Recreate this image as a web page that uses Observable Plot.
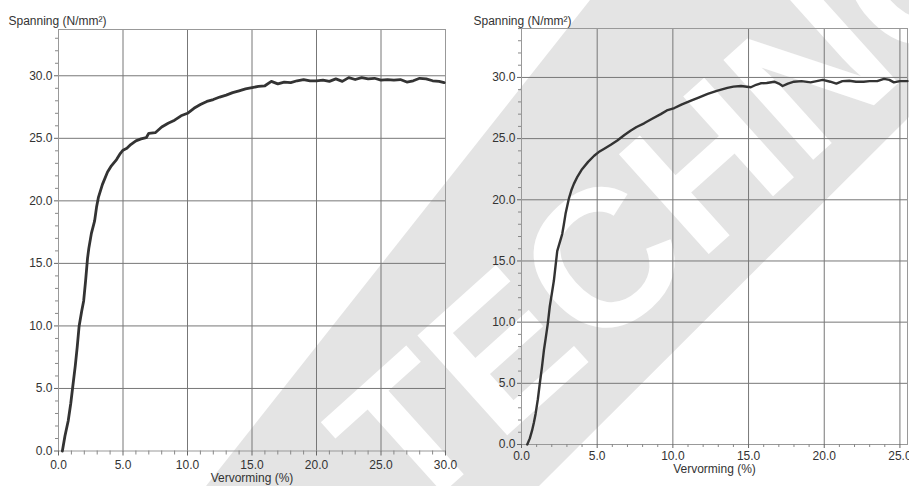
<!DOCTYPE html>
<html><head><meta charset="utf-8">
<script src="https://cdn.jsdelivr.net/npm/d3@7"></script>
<script src="https://cdn.jsdelivr.net/npm/@observablehq/plot@0.6"></script>
<style>
html,body{margin:0;padding:0;background:#fff;}
#wrap{position:relative;width:909px;height:486px;overflow:hidden;font-family:"Liberation Sans",Arial,sans-serif;}
#wrap svg{position:absolute;}
</style></head><body><div id="wrap"></div>
<script>
const yLabel = "Spanning (N/mm²)";
const xLabel = "Vervorming (%)";
const watermark = "TECHNO";

const leftStrain = [0.3,0.5,0.75,0.95,1.1,1.3,1.45,1.6,1.8,1.95,2.1,2.25,2.35,2.55,2.8,2.95,3.1,3.4,3.8,4.1,4.5,4.8,5.0,5.3,5.6,6.0,6.4,6.8,7.0,7.5,8.0,8.5,9.0,9.5,10.0,10.5,11.0,11.5,12.0,12.5,13.0,13.5,14.0,14.5,15.0,15.5,16.0,16.5,17.0,17.5,18.0,18.5,19.0,19.5,20.0,20.5,21.0,21.5,22.0,22.5,23.0,23.5,24.0,24.5,25.0,25.5,26.0,26.5,27.0,27.5,28.0,28.5,29.0,29.5,29.9];
const leftStress = [0,1.2,2.4,3.8,5.1,6.8,8.3,10.0,11.2,12.0,13.6,15.4,16.2,17.4,18.4,19.5,20.3,21.3,22.3,22.8,23.3,23.8,24.05,24.2,24.5,24.8,24.95,25.05,25.4,25.45,25.9,26.2,26.45,26.8,27.0,27.4,27.7,27.95,28.1,28.3,28.45,28.65,28.8,28.95,29.05,29.15,29.2,29.55,29.35,29.5,29.45,29.6,29.7,29.6,29.6,29.65,29.55,29.75,29.55,29.85,29.7,29.85,29.75,29.8,29.65,29.7,29.65,29.7,29.5,29.6,29.8,29.75,29.6,29.55,29.45];

const rightStrain = [0.38,0.55,0.7,0.82,0.93,1.08,1.21,1.35,1.48,1.6,1.74,1.87,2.0,2.14,2.25,2.36,2.5,2.69,2.8,2.91,3.13,3.3,3.46,3.7,4.0,4.4,4.8,5.1,5.44,5.9,6.33,6.8,7.2,7.6,8.1,8.6,9.2,9.6,10.1,10.6,11.2,11.7,12.3,12.9,13.6,14.0,14.5,15.15,15.5,15.8,16.2,16.7,17.0,17.25,17.6,18.0,18.5,19.1,19.5,19.9,20.4,20.8,21.2,21.65,22.1,22.6,23.0,23.5,23.95,24.3,24.6,25.0,25.5];
const rightStress = [0,0.5,1.15,1.8,2.5,3.7,5.0,6.3,7.7,8.7,9.9,11.3,12.3,13.4,14.6,15.8,16.4,17.2,18.0,18.85,20.1,20.8,21.3,21.9,22.5,23.1,23.6,23.9,24.15,24.5,24.85,25.3,25.65,25.95,26.25,26.6,27.0,27.3,27.5,27.8,28.1,28.35,28.65,28.9,29.15,29.25,29.3,29.2,29.4,29.52,29.55,29.65,29.5,29.3,29.5,29.65,29.7,29.6,29.7,29.8,29.65,29.5,29.7,29.73,29.65,29.65,29.7,29.7,29.88,29.8,29.6,29.7,29.7];

const leftXTicks = [0,5,10,15,20,25,30];
const rightXTicks = [0,5,10,15,20,25];
const yTicks = [0,5,10,15,20,25,30];
const fmt = d3.format(".1f");

const wrap = document.getElementById("wrap");

// watermark (decorative, behind the charts)
const wm = d3.create("svg").attr("width", 909).attr("height", 486).style("left","0px").style("top","0px");
wm.append("polygon").attr("points", "206,486 590,0 909,0 909,117 539,486").attr("fill", "#e4e4e4");
wm.append("text").text(watermark)
  .attr("transform", "translate(668,196) rotate(-42)")
  .attr("text-anchor", "middle").attr("dy", "0.36em")
  .attr("font-family", "Liberation Sans, Arial, sans-serif").attr("font-weight", "bold")
  .attr("font-size", 195).attr("fill", "#ffffff");
wrap.appendChild(wm.node());

function chart({strain, stress, xDomain, yDomain, xTicks, width, height, margins, lineWidth, labelDx, labelDy, xLabelOffset, xTickSize, xTickPad, left}) {
  const data = strain.map((x, i) => ({x, y: stress[i]}));
  const xMinor = d3.range(0, Math.floor(xDomain[1]) + 1).filter(v => v % 5 !== 0);
  const yMinor = d3.range(0, Math.floor(yDomain[1]) + 1).filter(v => v % 5 !== 0);
  const p = Plot.plot({
    width, height, ...margins,
    style: {background: "transparent", fontFamily: "Liberation Sans, Arial, sans-serif", fontSize: "12px", color: "#333", overflow: "visible"},
    x: {domain: xDomain},
    y: {domain: yDomain},
    marks: [
      Plot.ruleX(xTicks.filter(v => v > 0 && v < xDomain[1]), {stroke: "#777", strokeWidth: 1}),
      Plot.ruleY(yTicks.filter(v => v > 0), {stroke: "#777", strokeWidth: 1}),
      Plot.frame({stroke: "#999"}),
      Plot.axisY(yTicks, {tickSize: 4, tickPadding: 2, tickFormat: fmt, label: null, stroke: "#666"}),
      Plot.axisY(yMinor, {tickSize: 3, tickFormat: () => "", label: null, stroke: "#888"}),
      Plot.axisX(xTicks, {tickSize: xTickSize, tickPadding: xTickPad, tickFormat: fmt, label: xLabel, labelAnchor: "center", labelArrow: "none", labelOffset: xLabelOffset, stroke: "#666"}),
      Plot.axisX(xMinor, {tickSize: xTickSize - 1, tickFormat: () => "", label: null, stroke: "#888"}),
      Plot.line(data, {x: "x", y: "y", stroke: "#333", strokeWidth: lineWidth, strokeLinejoin: "round", strokeLinecap: "round"}),
      Plot.text([yLabel], {text: d => d, frameAnchor: "top-left", dx: labelDx, dy: labelDy, textAnchor: "start", fontSize: 12, fill: "#333"})
    ]
  });
  p.style.left = left + "px";
  p.style.top = "0px";
  return p;
}

wrap.appendChild(chart({
  strain: leftStrain, stress: leftStress, xDomain: [0, 30], yDomain: [0, 33.7], xTicks: leftXTicks,
  width: 455, height: 486, margins: {marginLeft: 58, marginRight: 10, marginTop: 29, marginBottom: 35.5},
  lineWidth: 2.8, labelDx: -50, labelDy: -13, xLabelOffset: 31, xTickSize: 5, xTickPad: 4, left: 0
}));
wrap.appendChild(chart({
  strain: rightStrain, stress: rightStress, xDomain: [0, 25.5], yDomain: [0, 34], xTicks: rightXTicks,
  width: 449, height: 486, margins: {marginLeft: 61, marginRight: 2, marginTop: 28, marginBottom: 42},
  lineWidth: 2.4, labelDx: -48, labelDy: -12, xLabelOffset: 28, xTickSize: 4, xTickPad: 3, left: 460
}));
</script></body></html>
